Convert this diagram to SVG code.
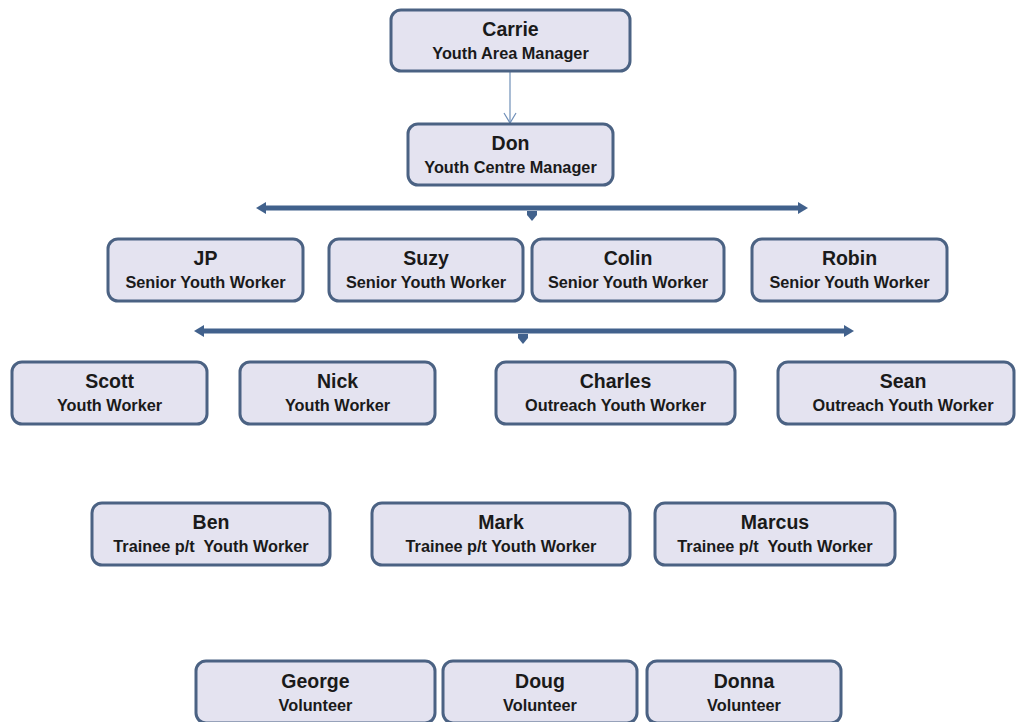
<svg xmlns="http://www.w3.org/2000/svg" width="1016" height="722" viewBox="0 0 1016 722">
<defs>
<style>
.box{fill:#e4e3f0;stroke:#4b6283;stroke-width:3}
.n{font-family:"Liberation Sans",Arial,sans-serif;font-weight:bold;font-size:19.5px;fill:#1a1a1a;text-anchor:middle}
.t{font-family:"Liberation Sans",Arial,sans-serif;font-weight:bold;font-size:16.3px;fill:#1a1a1a;text-anchor:middle}
.bar{stroke:#41618c;stroke-width:5;fill:none}
.thin{stroke:#6f8fb8;stroke-width:1.2;fill:none}
</style>
<marker id="open" markerWidth="14" markerHeight="14" refX="12" refY="7" orient="auto" markerUnits="userSpaceOnUse" viewBox="0 0 14 14">
<path d="M2,1 L12,7 L2,13" fill="none" stroke="#6f8fb8" stroke-width="1.2"/>
</marker>
</defs>
<rect width="1016" height="722" fill="#ffffff"/>
<g id="connectors">
<line class="thin" x1="510" y1="72" x2="510" y2="123" marker-end="url(#open)"/>
<line class="bar" x1="264" y1="208" x2="800" y2="208"/>
<path d="M256,208 L266,202 L266,214 Z" fill="#41618c"/>
<path d="M808,208 L798,202 L798,214 Z" fill="#41618c"/>
<path d="M527,211 L537,211 L537,215 L532,221 L527,215 Z" fill="#41618c"/>
<line class="bar" x1="202" y1="331" x2="846" y2="331"/>
<path d="M194,331 L204,325 L204,337 Z" fill="#41618c"/>
<path d="M854,331 L844,325 L844,337 Z" fill="#41618c"/>
<path d="M518,334 L528,334 L528,338 L523,344 L518,338 Z" fill="#41618c"/>
</g>
<g id="carrie"><rect class="box" x="391" y="10" width="239" height="61" rx="10"/><text class="n" x="510.5" y="36">Carrie</text><text class="t" x="510.5" y="59">Youth Area Manager</text></g>
<g id="don"><rect class="box" x="408" y="124" width="205" height="61" rx="10"/><text class="n" x="510.5" y="150">Don</text><text class="t" x="510.5" y="173">Youth Centre Manager</text></g>
<g id="jp"><rect class="box" x="108" y="239" width="195" height="62" rx="10"/><text class="n" x="205.5" y="265">JP</text><text class="t" x="205.5" y="288">Senior Youth Worker</text></g>
<g id="suzy"><rect class="box" x="329" y="239" width="194" height="62" rx="10"/><text class="n" x="426" y="265">Suzy</text><text class="t" x="426" y="288">Senior Youth Worker</text></g>
<g id="colin"><rect class="box" x="532" y="239" width="192" height="62" rx="10"/><text class="n" x="628" y="265">Colin</text><text class="t" x="628" y="288">Senior Youth Worker</text></g>
<g id="robin"><rect class="box" x="752" y="239" width="195" height="62" rx="10"/><text class="n" x="849.5" y="265">Robin</text><text class="t" x="849.5" y="288">Senior Youth Worker</text></g>
<g id="scott"><rect class="box" x="12" y="362" width="195" height="62" rx="10"/><text class="n" x="109.5" y="388">Scott</text><text class="t" x="109.5" y="411">Youth Worker</text></g>
<g id="nick"><rect class="box" x="240" y="362" width="195" height="62" rx="10"/><text class="n" x="337.5" y="388">Nick</text><text class="t" x="337.5" y="411">Youth Worker</text></g>
<g id="charles"><rect class="box" x="496" y="362" width="239" height="62" rx="10"/><text class="n" x="615.5" y="388">Charles</text><text class="t" x="615.5" y="411">Outreach Youth Worker</text></g>
<g id="sean"><rect class="box" x="778" y="362" width="236" height="62" rx="10"/><text class="n" x="903" y="388">Sean</text><text class="t" x="903" y="411">Outreach Youth Worker</text></g>
<g id="ben"><rect class="box" x="92" y="503" width="238" height="62" rx="10"/><text class="n" x="211" y="529">Ben</text><text class="t" x="211" y="552" xml:space="preserve">Trainee p/t  Youth Worker</text></g>
<g id="mark"><rect class="box" x="372" y="503" width="258" height="62" rx="10"/><text class="n" x="501" y="529">Mark</text><text class="t" x="501" y="552">Trainee p/t Youth Worker</text></g>
<g id="marcus"><rect class="box" x="655" y="503" width="240" height="62" rx="10"/><text class="n" x="775" y="529">Marcus</text><text class="t" x="775" y="552" xml:space="preserve">Trainee p/t  Youth Worker</text></g>
<g id="george"><rect class="box" x="196" y="661" width="239" height="62" rx="10"/><text class="n" x="315.5" y="688">George</text><text class="t" x="315.5" y="711">Volunteer</text></g>
<g id="doug"><rect class="box" x="443" y="661" width="194" height="62" rx="10"/><text class="n" x="540" y="688">Doug</text><text class="t" x="540" y="711">Volunteer</text></g>
<g id="donna"><rect class="box" x="647" y="661" width="194" height="62" rx="10"/><text class="n" x="744" y="688">Donna</text><text class="t" x="744" y="711">Volunteer</text></g>
</svg>
